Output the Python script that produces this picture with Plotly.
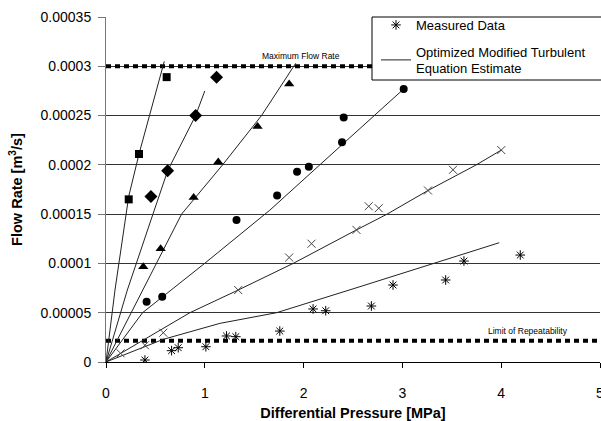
import plotly.graph_objects as go

# ---- measured data (x: MPa, y: m^3/s) ----
sq_x = [0.230, 0.334, 0.614]
sq_y = [0.000165, 0.000211, 0.000289]

dia_x = [0.455, 0.624, 0.907, 1.119]
dia_y = [0.000168, 0.000194, 0.000250, 0.000289]

tri_x = [0.377, 0.553, 0.887, 1.136, 1.534, 1.854]
tri_y = [0.0000967, 0.000115, 0.000167, 0.000203, 0.000239, 0.000282]

cir_x = [0.411, 0.569, 1.321, 1.732, 1.934, 2.053, 2.389, 2.406, 3.013]
cir_y = [0.0000612, 0.0000662, 0.000144, 0.000169, 0.000193, 0.000198, 0.000223, 0.000248, 0.000277]

xm_x = [0.148, 0.394, 0.580, 1.338, 1.854, 2.080, 2.535, 2.659, 2.760, 3.259, 3.512, 4.001]
xm_y = [0.0000088, 0.000017, 0.0000297, 0.0000730, 0.000106, 0.000120, 0.000134, 0.000158, 0.000156, 0.000174, 0.000195, 0.000215]

ast_x = [0.394, 0.664, 0.731, 1.011, 1.220, 1.314, 1.759, 2.096, 2.224, 2.686, 2.905, 3.438, 3.623, 4.193]
ast_y = [0.000002, 0.0000115, 0.0000145, 0.0000155, 0.0000264, 0.0000257, 0.0000314, 0.0000538, 0.0000520, 0.0000568, 0.0000781, 0.0000832, 0.0001024, 0.0001085]

# ---- estimate curves ----
fit_sq_x = [0, 0.091, 0.230, 0.334, 0.590]
fit_sq_y = [0, 0.000073, 0.000168, 0.000211, 0.000305]

fit_dia_x = [0, 0.216, 0.455, 0.624, 0.907, 1.0]
fit_dia_y = [0, 0.000073, 0.000144, 0.000194, 0.000250, 0.000275]

fit_tri_x = [0, 0.37, 0.512, 0.765, 1.18, 1.574, 1.92]
fit_tri_y = [0, 0.000073, 0.0001, 0.00015, 0.0002, 0.00025, 0.000303]

fit_cir_x = [0, 0.37, 0.998, 1.658, 2.164, 2.72, 3.013]
fit_cir_y = [0, 0.00005, 0.0001, 0.000154, 0.0002, 0.00025, 0.000277]

fit_xm_x = [0, 0.849, 1.338, 1.894, 2.535, 2.845, 3.259, 3.748, 4.001]
fit_xm_y = [0, 0.00005, 0.000073, 0.0001, 0.000134, 0.00015, 0.000174, 0.0002, 0.000215]

fit_ast_x = [0, 0.58, 1.153, 1.726, 2.5, 3.327, 3.98]
fit_ast_y = [0, 0.000023, 0.0000392, 0.00005, 0.0000742, 0.0001, 0.000121]

# ---- limits ----
max_flow = 0.0003
limit_rep = 0.0000215
x_range = [0, 5]

y_tickvals = [0, 0.00005, 0.0001, 0.00015, 0.0002, 0.00025, 0.0003, 0.00035]
y_ticktext = ["0", "0.00005", "0.0001", "0.00015", "0.0002", "0.00025", "0.0003", "0.00035"]
x_tickvals = [0, 1, 2, 3, 4, 5]
x_ticktext = ["0", "1", "2", "3", "4", "5"]

FONT = "Liberation Sans, Arial, sans-serif"
W, H = 601, 421
ML, MR, MT, MB = 106, 1, 17, 59
PW, PH = W - ML - MR, H - MT - MB


def px_x(p):
    return (p - ML) / PW


def px_y(p):
    return (H - MB - p) / PH


fig = go.Figure()

# limit lines
dotstyle = dict(color="black", width=4, dash="5px,4px")
fig.add_trace(go.Scatter(x=x_range, y=[max_flow, max_flow], mode="lines", line=dotstyle,
                         showlegend=False, hoverinfo="skip"))
fig.add_trace(go.Scatter(x=x_range, y=[limit_rep, limit_rep], mode="lines", line=dotstyle,
                         showlegend=False, hoverinfo="skip"))

# legend entries
fig.add_trace(go.Scatter(x=ast_x, y=ast_y, mode="markers", name="Measured Data", legend="legend",
                         marker=dict(symbol="asterisk-open", size=8, color="black",
                                     line=dict(color="black", width=1))))
line_style = dict(color="#222", width=1)
fig.add_trace(go.Scatter(x=fit_ast_x, y=fit_ast_y, mode="lines", legend="legend2",
                         name="Optimized Modified Turbulent<br>Equation Estimate", line=line_style))

for fx, fy in [(fit_sq_x, fit_sq_y), (fit_dia_x, fit_dia_y), (fit_tri_x, fit_tri_y),
               (fit_cir_x, fit_cir_y), (fit_xm_x, fit_xm_y)]:
    fig.add_trace(go.Scatter(x=fx, y=fy, mode="lines", line=line_style, showlegend=False))

fig.add_trace(go.Scatter(x=sq_x, y=sq_y, mode="markers", showlegend=False,
                         marker=dict(symbol="square", size=8, color="black")))
fig.add_trace(go.Scatter(x=dia_x, y=dia_y, mode="markers", showlegend=False,
                         marker=dict(symbol="diamond", size=10, color="black")))
fig.add_trace(go.Scatter(x=tri_x, y=tri_y, mode="markers", showlegend=False,
                         marker=dict(symbol="triangle-up", size=9, color="black")))
fig.add_trace(go.Scatter(x=cir_x, y=cir_y, mode="markers", showlegend=False,
                         marker=dict(symbol="circle", size=8, color="black")))
fig.add_trace(go.Scatter(x=xm_x, y=xm_y, mode="markers", showlegend=False,
                         marker=dict(symbol="x-thin-open", size=8, color="#444",
                                     line=dict(color="#444", width=1))))

fig.add_annotation(x=1.97, y=max_flow, text="Maximum Flow Rate", showarrow=False,
                   yshift=10, font=dict(family=FONT, size=8.5, color="black"))
fig.add_annotation(x=4.27, y=limit_rep, text="Limit of Repeatability", showarrow=False,
                   yshift=10, font=dict(family=FONT, size=8.5, color="black"))

# legend box
fig.add_shape(type="rect", xref="paper", yref="paper", layer="above",
              x0=px_x(372), x1=px_x(603), y0=px_y(80), y1=1,
              fillcolor="white", line=dict(color="black", width=1))

leg_font = dict(family=FONT, size=13, color="black")
fig.update_layout(
    width=W, height=H,
    margin=dict(l=ML, r=MR, t=MT, b=MB),
    paper_bgcolor="white", plot_bgcolor="white",
    font=dict(family=FONT, size=14, color="black"),
    showlegend=True,
    legend=dict(x=px_x(376), y=px_y(25), xanchor="left", yanchor="middle",
                bgcolor="rgba(0,0,0,0)", borderwidth=0, font=leg_font, itemwidth=30),
    legend2=dict(x=px_x(376), y=px_y(60), xanchor="left", yanchor="middle",
                 bgcolor="rgba(0,0,0,0)", borderwidth=0, font=leg_font, itemwidth=30),
    xaxis=dict(range=x_range, tickvals=x_tickvals, ticktext=x_ticktext, automargin=False,
               showgrid=False, zeroline=False, showline=True, linecolor="black", linewidth=1,
               ticks="outside", ticklen=5, tickcolor="black", ticklabelstandoff=13,
               ticklabeloverflow="allow",
               title=dict(text="<b>Differential Pressure [MPa]</b>", font=dict(size=14.5), standoff=8)),
    yaxis=dict(range=[0, 0.00035], tickvals=y_tickvals, ticktext=y_ticktext, automargin=False,
               showgrid=True, gridcolor="#333", gridwidth=1, zeroline=False,
               showline=True, linecolor="#777", linewidth=1,
               ticks="outside", ticklen=7, tickcolor="#777", ticklabelstandoff=4,
               title=dict(text="<b>Flow Rate [m<sup>3</sup>/s]</b>", font=dict(size=14.5), standoff=14)),
)

fig.write_html("out.html", config={"displayModeBar": False},
               post_script="document.body.style.margin='0px';")
